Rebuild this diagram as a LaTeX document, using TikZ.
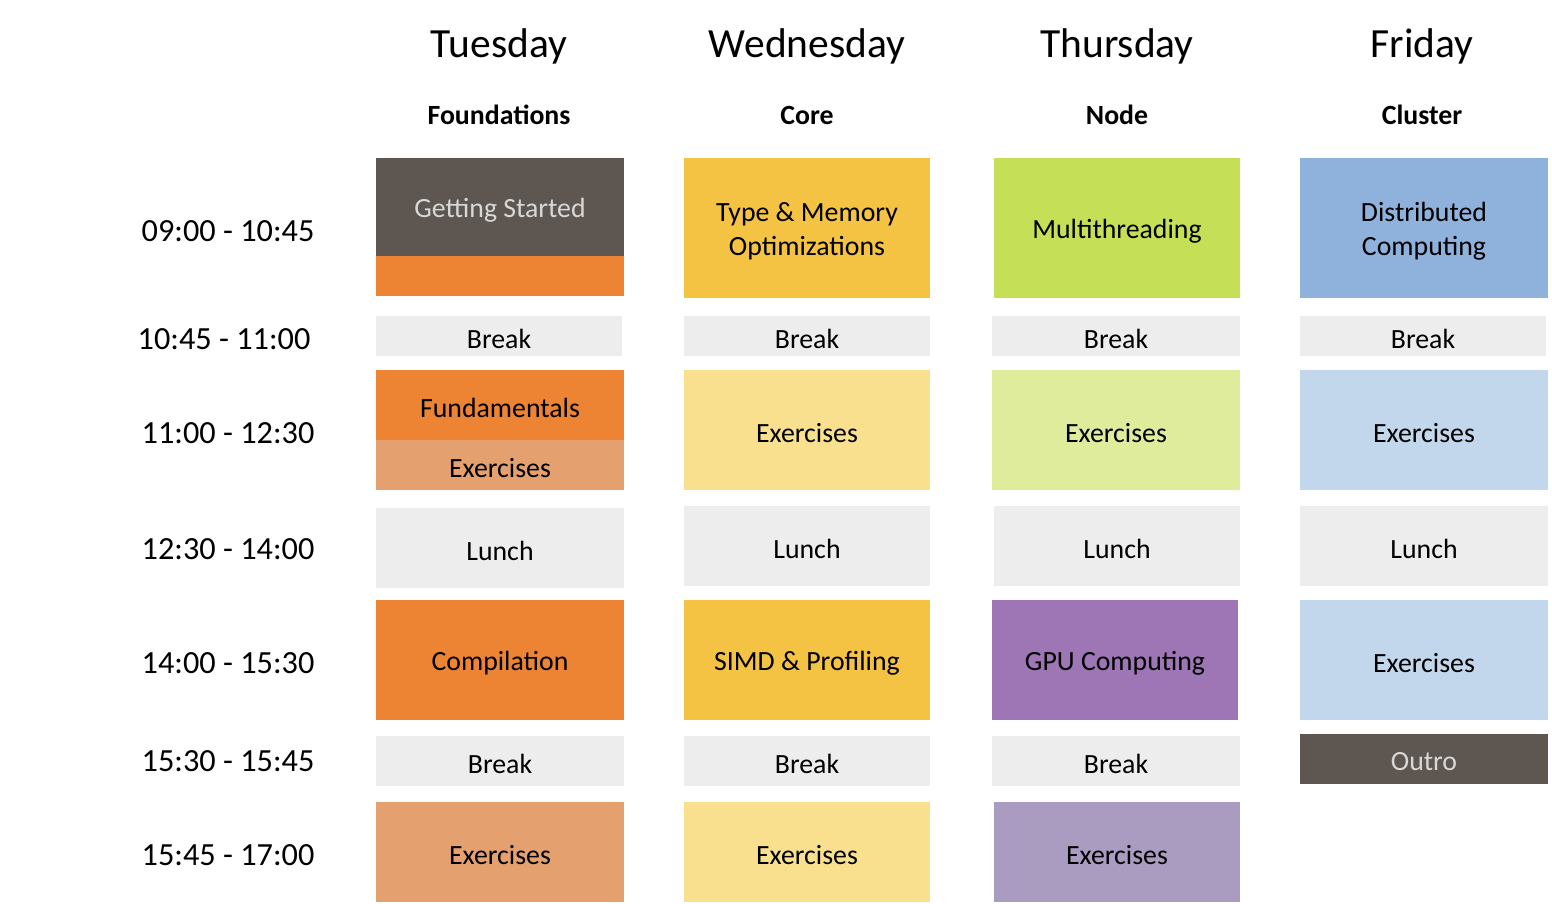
\documentclass[tikz,border=0pt]{standalone}
\usepackage{fontspec}
\setmainfont{Carlito}
\definecolor{dgray}{HTML}{5E5751}
\definecolor{ltext}{HTML}{D8D8D8}
\definecolor{brk}{HTML}{EDEDED}
\definecolor{org}{HTML}{ED8434}
\definecolor{lorg}{HTML}{E4A06E}
\definecolor{yel}{HTML}{F4C343}
\definecolor{lyel}{HTML}{F8E08E}
\definecolor{grn}{HTML}{C5E056}
\definecolor{lgrn}{HTML}{DEEC9B}
\definecolor{pur}{HTML}{9E75B5}
\definecolor{lpur}{HTML}{AA9BC1}
\definecolor{blu}{HTML}{8FB2DC}
\definecolor{lblu}{HTML}{C2D7EB}
\tikzset{
  blk/.style={inner sep=0pt, outer sep=0pt, align=center, font=\fontsize{27.8}{34}\selectfont, text=black},
  dayhead/.style={font=\fontsize{41.5}{44}\selectfont},
  subhead/.style={font=\fontsize{27.8}{30}\selectfont\bfseries},
  timelab/.style={font=\fontsize{32.3}{34}\selectfont},
}
\newcommand\blk[7]{%
  \node[blk, fill=#6, minimum width={#4-#2}, minimum height={#5-#3}, text height=0pt] (#1) at ({(#2+#4)/2},{(#3+#5)/2}) {};%
  \node[blk, yshift=-3pt] (#1t) at (#1.center) {#7};}
\begin{document}
\begin{tikzpicture}[x=1pt,y=-1pt]
\useasboundingbox (0,0) rectangle (1552,904);
% headers
\node[dayhead] (dTue) at (499,46) {Tuesday};
\node[dayhead] (dWed) at (807,46) {Wednesday};
\node[dayhead] (dThu) at (1117,46) {Thursday};
\node[dayhead] (dFri) at (1422,46) {Friday};
\node[subhead] (sTue) at (499,115) {Foundations};
\node[subhead] (sWed) at (807,115) {Core};
\node[subhead] (sThu) at (1117,115) {Node};
\node[subhead] (sFri) at (1422,115) {Cluster};
% times
\node[timelab] (t1) at (228,231) {09:00 - 10:45};
\node[timelab] (t2) at (224,339) {10:45 - 11:00};
\node[timelab] (t3) at (228,433) {11:00 - 12:30};
\node[timelab] (t4) at (228,549) {12:30 - 14:00};
\node[timelab] (t5) at (228,663) {14:00 - 15:30};
\node[timelab] (t6) at (228,761) {15:30 - 15:45};
\node[timelab] (t7) at (228,855) {15:45 - 17:00};
% Tuesday
\blk{gs}{376}{158}{624}{256}{dgray}{\textcolor{ltext}{Getting Started}}
\blk{gso}{376}{256}{624}{296}{org}{}
\blk{tb1}{376}{316}{622}{356}{brk}{Break}
\blk{fund}{376}{370}{624}{440}{org}{Fundamentals}
\blk{tex1}{376}{440}{624}{490}{lorg}{Exercises}
\blk{tl}{376}{508}{624}{588}{brk}{Lunch}
\blk{comp}{376}{600}{624}{720}{org}{Compilation}
\blk{tb2}{376}{736}{624}{786}{brk}{Break}
\blk{tex2}{376}{802}{624}{902}{lorg}{Exercises}
% Wednesday
\blk{tm}{684}{158}{930}{298}{yel}{Type \& Memory\\Optimizations}
\blk{wb1}{684}{316}{930}{356}{brk}{Break}
\blk{wex1}{684}{370}{930}{490}{lyel}{Exercises}
\blk{wl}{684}{506}{930}{586}{brk}{Lunch}
\blk{simd}{684}{600}{930}{720}{yel}{SIMD \& Profiling}
\blk{wb2}{684}{736}{930}{786}{brk}{Break}
\blk{wex2}{684}{802}{930}{902}{lyel}{Exercises}
% Thursday
\blk{mt}{994}{158}{1240}{298}{grn}{Multithreading}
\blk{hb1}{992}{316}{1240}{356}{brk}{Break}
\blk{hex1}{992}{370}{1240}{490}{lgrn}{Exercises}
\blk{hl}{994}{506}{1240}{586}{brk}{Lunch}
\blk{gpu}{992}{600}{1238}{720}{pur}{GPU Computing}
\blk{hb2}{992}{736}{1240}{786}{brk}{Break}
\blk{hex2}{994}{802}{1240}{902}{lpur}{Exercises}
% Friday
\blk{dc}{1300}{158}{1548}{298}{blu}{Distributed\\Computing}
\blk{fb1}{1300}{316}{1546}{356}{brk}{Break}
\blk{fex1}{1300}{370}{1548}{490}{lblu}{Exercises}
\blk{fl}{1300}{506}{1548}{586}{brk}{Lunch}
\blk{fex2}{1300}{600}{1548}{720}{lblu}{Exercises}
\blk{outro}{1300}{734}{1548}{784}{dgray}{\textcolor{ltext}{Outro}}
\end{tikzpicture}
\end{document}
